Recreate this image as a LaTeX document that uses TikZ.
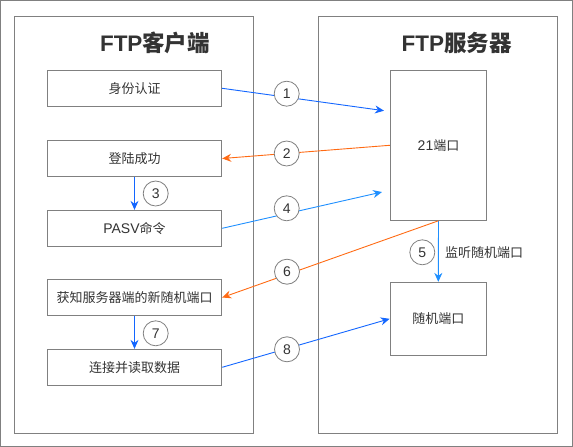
\documentclass[tikz,border=0pt]{standalone}
\usepackage{fontspec}
\setmainfont{Noto Sans CJK SC}
\newfontfamily\latin{Liberation Sans}
\usetikzlibrary{arrows.meta}
\definecolor{frame}{HTML}{808080}
\definecolor{txt}{HTML}{333333}
\definecolor{bluea}{HTML}{1366FF}
\definecolor{blueb}{HTML}{1E8FFF}
\definecolor{orng}{HTML}{FF6A13}
\tikzset{
  panel/.style={draw=frame, line width=0.9pt},
  stepbox/.style={draw=frame, line width=0.9pt, fill=white, minimum width=174.5pt, minimum height=36pt, inner sep=0pt, text=txt, font=\fontsize{13}{13}\selectfont},
  portbox/.style={draw=frame, line width=0.9pt, fill=white, inner sep=0pt, text=txt, font=\fontsize{13}{13}\selectfont},
  num/.style={circle, draw=frame, line width=0.8pt, fill=white, minimum size=25pt, inner sep=0pt, text=txt, font=\fontsize{14}{14}\selectfont\latin},
  ttl/.style={text=txt, font=\fontsize{22.5}{22.5}\selectfont\bfseries, inner sep=0pt},
  arr/.style={line width=0.9pt, -{Stealth[length=9pt,width=8pt,inset=3pt]}},
}
\begin{document}
\begin{tikzpicture}[x=1pt,y=-1pt]
\useasboundingbox (0,0) rectangle (573,447);
\draw[panel] (0.5,0.5) rectangle (572.5,446.5);
\draw[panel] (14,16) rectangle (253.5,433);
\draw[panel] (318,16) rectangle (557.5,433);
\node[ttl] (t1) at (155,43) {{\latin FTP}客户端};
\node[ttl] (t2) at (456.5,43) {{\latin FTP}服务器};
% client boxes
\node[stepbox] (b1) at (134.5,88.3) {身份认证};
\node[stepbox] (b2) at (134.5,158.5) {登陆成功};
\node[stepbox] (b3) at (134.5,228.3) {{\latin\fontsize{14}{14}\selectfont PASV}命令};
\node[stepbox] (b4) at (134.5,297.5) {获知服务器端的新随机端口};
\node[stepbox] (b5) at (134.5,367.3) {连接并读取数据};
% server boxes
\node[portbox, minimum width=96.5pt, minimum height=150pt] (p21) at (438.5,145.3) {{\latin\fontsize{14}{14}\selectfont 21}端口};
\node[portbox, minimum width=96.5pt, minimum height=73pt] (rp) at (438.3,318.8) {随机端口};
\coordinate (e1) at (384,110.7);
\coordinate (e4) at (382,192);
% connectors
\draw[arr, bluea] (b1.east) -- (e1);
\draw[arr, orng] (p21.west) -- (b2.east);
\draw[arr, bluea] (b2.south) -- (b3.north);
\draw[arr, blueb] (b3.east) -- (e4);
\draw[arr, blueb] (p21.south) -- (rp.north);
\draw[arr, orng] (p21.south) -- (b4.east);
\draw[arr, bluea] (b4.south) -- (b5.north);
\draw[arr, bluea] (b5.east) -- (rp.west);
% numbers
\node[num] (n1) at (286.7,93.7) {1};
\node[num] (n2) at (286.7,153.5) {2};
\node[num] (n3) at (155.7,193.5) {3};
\node[num] (n4) at (286.7,208.3) {4};
\node[num] (n5) at (422.3,252.3) {5};
\node[num] (n6) at (287,271.7) {6};
\node[num] (n7) at (155.7,333.3) {7};
\node[num] (n8) at (287,349.3) {8};
\node[anchor=west, text=txt, font=\fontsize{13}{13}\selectfont, inner sep=0pt] (l5) at (445,252.7) {监听随机端口};
\end{tikzpicture}
\end{document}
